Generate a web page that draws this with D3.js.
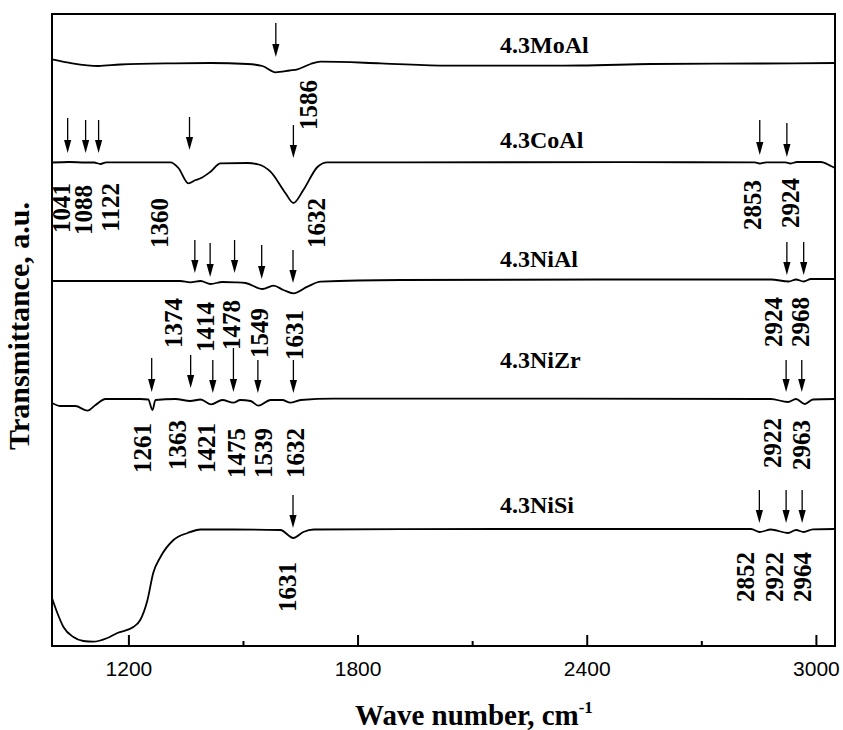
<!DOCTYPE html>
<html>
<head>
<meta charset="utf-8">
<script src="https://cdn.jsdelivr.net/npm/d3@7"></script>
<style>
  html, body { margin: 0; padding: 0; background: #fff; }
  svg { display: block; }
</style>
</head>
<body>
<svg id="chart" width="843" height="730"></svg>
<script>
// FT-IR spectra of the 4.3 wt.% catalysts: [wave number (cm-1), transmittance (a.u.)]
const moAl = [[1000,586.7],[1053,582.7],[1121,580],[1179,581.5],[1318,582.7],[1415,583],[1512,582],
  [1551,580],[1585,573.7],[1622,575.5],[1643,576.7],[1677,582],[1703,584.3],[1860,582.7],[2036,580.3],
  [2384,580.5],[2568,582],[2856,582.5],[3050,583]];
const coAl = [[1000,483.5],[1045,484],[1087,483.5],[1110,483.5],[1127,482],[1142,483.7],[1284,483.7],
  [1310,483.7],[1331,478],[1357,462.7],[1376,466],[1389,467.7],[1415,474.3],[1441,482.7],[1512,483],
  [1541,481.5],[1572,474.3],[1611,453],[1632,443],[1658,456],[1695,479],[1721,483.7],[1913,483.7],
  [2500,483.8],[2840,483.7],[2853,482.5],[2870,483.7],[2920,483.6],[2934,482.5],[2950,484],[3013,484],
  [3039,480],[3050,478]];
const niAl = [[1000,365],[1336,365],[1362,363.7],[1389,365],[1415,362],[1446,364],[1480,363.7],[1507,363],
  [1551,357],[1580,360.3],[1606,356],[1632,352.7],[1669,359.3],[1703,364.3],[1913,366],[2437,366.5],
  [2882,366.5],[2929,364.5],[2948,366.5],[2968,364.5],[2987,367],[3050,367]];
const niZr = [[1000,243],[1022,240],[1061,240],[1093,235.3],[1114,241],[1140,247],[1231,247],[1252,246.5],
  [1263,236],[1271,246],[1323,247],[1362,245],[1389,246.5],[1417,241.7],[1446,246],[1475,243.3],
  [1493,246],[1520,245],[1541,240.3],[1572,246],[1603,246],[1624,243.3],[1651,246],[1737,247.3],
  [2175,247.3],[2882,247],[2927,244],[2948,247],[2971,242],[2992,246.5],[3050,247]];
const niSi = [[1000,48],[1014,33],[1030,19],[1056,9],[1082,5],[1108,4.3],[1145,8],[1171,13],[1213,19],
  [1231,26],[1250,46],[1265,73],[1284,89],[1318,106],[1355,113],[1389,116.5],[1475,116.5],[1598,116],
  [1632,108],[1658,114],[1685,116.5],[2175,117],[2830,117],[2853,114],[2882,116.5],[2927,113],
  [2948,116],[2968,114],[2992,116.7],[3050,117]];

// Assigned band positions (cm-1)
const peaksMoAl = [1586];
const peaksCoAl = [1041, 1088, 1122, 1360, 1632, 2853, 2924];
const peaksNiAl = [1374, 1414, 1478, 1549, 1631, 2924, 2968];
const peaksNiZr = [1261, 1363, 1421, 1475, 1539, 1632, 2922, 2963];
const peaksNiSi = [1631, 2852, 2922, 2964];

const sampleNames = ["4.3MoAl", "4.3CoAl", "4.3NiAl", "4.3NiZr", "4.3NiSi"];
const majorTicks = [1200, 1800, 2400, 3000];
const minorTicks = [1500, 2100, 2700];

// ---- layout (pixels) ----
const plot = { left: 52, right: 835, top: 14, bottom: 646 };
// per sample: label baseline, arrow [tail, tip] y, band label [dx, top y]
const layout = [
  { nameY: 53,  arrows: [[23,57]], labels: [[33,80]] },
  { nameY: 148, arrows: [[118,153],[120,153],[120,153],[117,150],[125,158],[120,155],[123,157]],
    labels: [[-6,183],[-2,185],[12,183],[-30,198],[23,198],[-7,180],[4,178]] },
  { nameY: 267, arrows: [[240,273],[243,277],[240,273],[245,279],[250,283],[242,275],[242,275]],
    labels: [[-21,298],[-5,302],[-3,300],[-2,308],[1.5,310],[-13,297],[-3,297]] },
  { nameY: 368, arrows: [[358,392],[355,388],[360,393],[348,392],[360,393],[360,393],[360,392],[360,392]],
    labels: [[-9,423],[-13,420],[-6,423],[3,428],[6,428],[2,428],[-14,418],[0,420]] },
  { nameY: 513, arrows: [[495,528],[490,523],[490,523],[490,523]],
    labels: [[-6,562],[-14,552],[-12,552],[0,552]] }
];

const spectra = [moAl, coAl, niAl, niZr, niSi];
const peaks = [peaksMoAl, peaksCoAl, peaksNiAl, peaksNiZr, peaksNiSi];

const serif = "'Liberation Serif', 'Times New Roman', Times, serif";
const sans = "'Liberation Sans', Arial, Helvetica, sans-serif";

const svg = d3.select("#chart");
const x = d3.scaleLinear().domain([1000, 3050]).range([plot.left, plot.right]);
const y = d3.scaleLinear().domain([0, 632]).range([plot.bottom, plot.top]);

// axis ticks (inward)
const axisG = svg.append("g").attr("transform", `translate(0,${plot.bottom})`);
axisG.call(d3.axisBottom(x).tickValues(majorTicks).tickSize(-11).tickPadding(15).tickFormat(d3.format("d")));
axisG.select(".domain").remove();
axisG.selectAll(".tick line").attr("stroke", "#000").attr("stroke-width", 2);
axisG.selectAll(".tick text").attr("font-family", sans).attr("font-size", 21).attr("fill", "#000");

const minorG = svg.append("g").attr("transform", `translate(0,${plot.bottom})`);
minorG.call(d3.axisBottom(x).tickValues(minorTicks).tickSize(-5).tickFormat(""));
minorG.select(".domain").remove();
minorG.selectAll(".tick line").attr("stroke", "#000").attr("stroke-width", 2);

// frame
svg.append("rect")
  .attr("x", plot.left).attr("y", plot.top)
  .attr("width", plot.right - plot.left).attr("height", plot.bottom - plot.top)
  .attr("fill", "none").attr("stroke", "#000").attr("stroke-width", 2);

// spectra
const line = d3.line().x(d => x(d[0])).y(d => y(d[1])).curve(d3.curveMonotoneX);
svg.append("g").selectAll("path").data(spectra).join("path")
  .attr("d", line)
  .attr("fill", "none").attr("stroke", "#000").attr("stroke-width", 1.8)
  .attr("stroke-linejoin", "round");

// sample names
svg.append("g").selectAll("text").data(sampleNames).join("text")
  .attr("x", 500).attr("y", (d, i) => layout[i].nameY)
  .attr("font-family", serif).attr("font-weight", "bold").attr("font-size", 24)
  .text(d => d);

// band arrows and labels
const bandG = svg.append("g");
peaks.forEach((list, i) => {
  list.forEach((wn, j) => {
    const px = x(wn);
    const [tail, tip] = layout[i].arrows[j];
    const head = 13;
    bandG.append("line")
      .attr("x1", px).attr("x2", px).attr("y1", tail).attr("y2", tip - head + 1)
      .attr("stroke", "#000").attr("stroke-width", 1.3);
    bandG.append("path")
      .attr("d", `M${px},${tip} L${px - 3.6},${tip - head} L${px + 3.6},${tip - head} Z`)
      .attr("fill", "#000");
    const [dx, top] = layout[i].labels[j];
    bandG.append("text")
      .attr("transform", `translate(${px + dx},${top}) rotate(-90)`)
      .attr("text-anchor", "end")
      .attr("dominant-baseline", "central")
      .attr("font-family", serif).attr("font-weight", "bold").attr("font-size", 25)
      .text(wn);
  });
});

// axis titles
svg.append("text")
  .attr("transform", "translate(29,326) rotate(-90)")
  .attr("text-anchor", "middle")
  .attr("font-family", serif).attr("font-weight", "bold").attr("font-size", 30)
  .text("Transmittance, a.u.");

const xt = svg.append("text")
  .attr("x", 355).attr("y", 725)
  .attr("font-family", serif).attr("font-weight", "bold").attr("font-size", 29);
xt.append("tspan").text("Wave number, cm");
xt.append("tspan").attr("dy", -12).attr("font-size", 17).text("-1");
</script>
</body>
</html>
